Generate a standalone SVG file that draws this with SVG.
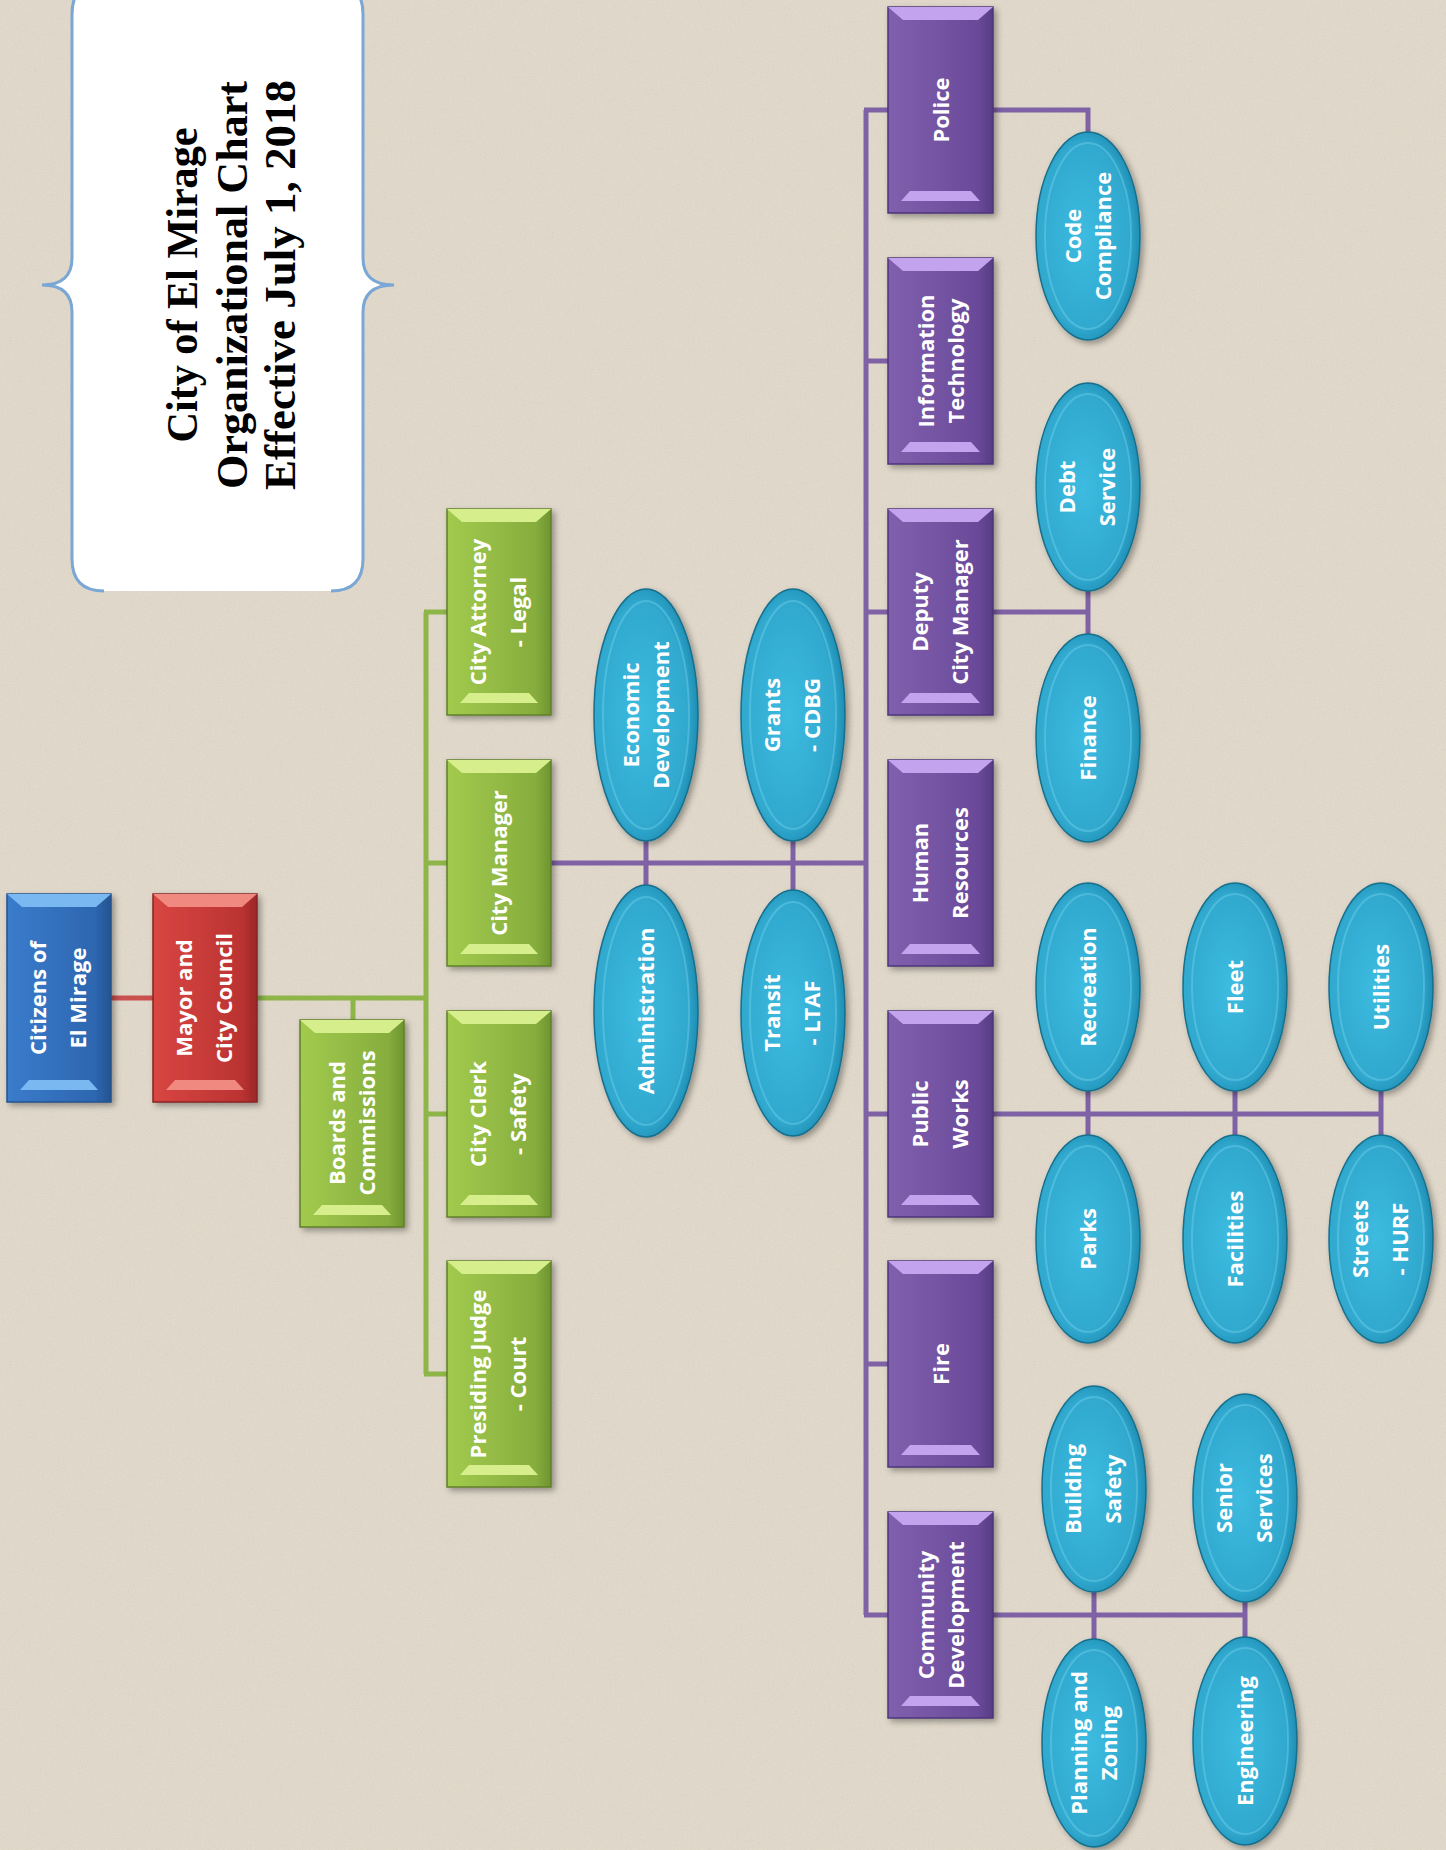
<svg xmlns="http://www.w3.org/2000/svg" width="1446" height="1850" viewBox="0 0 1446 1850">
<style>
.t{font-family:"Open Sans","Liberation Sans",sans-serif;font-weight:700;font-size:22px;fill:#fff;text-anchor:middle}
.title{font-family:"Liberation Serif",serif;font-weight:700;font-size:45px;fill:#000;text-anchor:middle}
.cp{fill:none;stroke:#7f62a6;stroke-width:5}
.cg{fill:none;stroke:#8db548;stroke-width:5}
.cr{fill:none;stroke:#c9504e;stroke-width:5}
.bx{filter:url(#sh)}
.ell{fill:url(#gE);stroke:#176f8c;stroke-width:1.5;filter:url(#sh)}
.ring{fill:none;stroke:#6fd0ec;stroke-width:2;opacity:.45}
.hlG{fill:#d6ee8c}.hlP{fill:#c4a3ee}.hlB{fill:#7ab8f2}.hlR{fill:#f08a80}
</style>
<defs>
<filter id="sh" x="-20%" y="-20%" width="140%" height="140%"><feDropShadow dx="3" dy="3" stdDeviation="3" flood-color="#000" flood-opacity="0.35"/></filter>
<filter id="grain" x="0" y="0" width="100%" height="100%"><feTurbulence type="fractalNoise" baseFrequency="0.75" numOctaves="3" seed="7"/><feColorMatrix type="saturate" values="0"/></filter>
<linearGradient id="gG" x1="0" x2="1" y1="0" y2="0"><stop offset="0" stop-color="#a2cb4e"/><stop offset="0.85" stop-color="#86ad3d"/><stop offset="1" stop-color="#6e9430"/></linearGradient>
<linearGradient id="gP" x1="0" x2="1" y1="0" y2="0"><stop offset="0" stop-color="#8060ae"/><stop offset="0.85" stop-color="#6a4a9a"/><stop offset="1" stop-color="#573c84"/></linearGradient>
<linearGradient id="gB" x1="0" x2="1" y1="0" y2="0"><stop offset="0" stop-color="#3a7ccc"/><stop offset="0.85" stop-color="#2d66b0"/><stop offset="1" stop-color="#24548f"/></linearGradient>
<linearGradient id="gR" x1="0" x2="1" y1="0" y2="0"><stop offset="0" stop-color="#d84642"/><stop offset="0.85" stop-color="#bb3332"/><stop offset="1" stop-color="#9c2728"/></linearGradient>
<radialGradient id="gE" cx="0.45" cy="0.5" r="0.55"><stop offset="0" stop-color="#3dbbe0"/><stop offset="0.8" stop-color="#31a9cf"/><stop offset="1" stop-color="#1f8db3"/></radialGradient>
</defs>

<rect width="1446" height="1850" fill="#e3dacb"/>
<rect width="1446" height="1850" filter="url(#grain)" opacity="0.18"/>

<g id="title">
<path d="M104,-18 L331,-18 Q363,-18 363,14 L363,258 Q363,285 394,285 Q363,285 363,312 L363,559 Q363,591 331,591 L104,591 Q72,591 72,559 L72,312 Q72,285 42,285 Q72,285 72,258 L72,14 Q72,-18 104,-18 Z" fill="#fff"/>
<path d="M104,-18 Q72,-18 72,14 L72,258 Q72,285 42,285 Q72,285 72,312 L72,559 Q72,591 104,591" fill="none" stroke="#7ba7d4" stroke-width="3"/>
<path d="M331,-18 Q363,-18 363,14 L363,258 Q363,285 394,285 Q363,285 363,312 L363,559 Q363,591 331,591" fill="none" stroke="#7ba7d4" stroke-width="3"/>
<g transform="translate(0,285) rotate(-90)">
<text class="title" x="0" y="197" textLength="315" lengthAdjust="spacingAndGlyphs">City of El Mirage</text>
<text class="title" x="0" y="247" textLength="408" lengthAdjust="spacingAndGlyphs">Organizational Chart</text>
<text class="title" x="0" y="295" textLength="410" lengthAdjust="spacingAndGlyphs">Effective July 1, 2018</text>
</g>
</g>

<g id="connectors">
<line class="cr" x1="111" y1="998" x2="153" y2="998"/>
<polyline class="cg" points="257,998 426,998"/>
<line class="cg" x1="353" y1="998" x2="353" y2="1020"/>
<line class="cg" x1="426" y1="612" x2="426" y2="1374"/>
<line class="cg" x1="424" y1="612" x2="447" y2="612"/>
<line class="cg" x1="424" y1="863" x2="447" y2="863"/>
<line class="cg" x1="424" y1="1114" x2="447" y2="1114"/>
<line class="cg" x1="424" y1="1374" x2="447" y2="1374"/>
<line class="cp" x1="551" y1="863" x2="866" y2="863"/>
<line class="cp" x1="646" y1="841" x2="646" y2="885"/>
<line class="cp" x1="793" y1="841" x2="793" y2="890"/>
<line class="cp" x1="866" y1="110" x2="866" y2="1615"/>
<line class="cp" x1="864" y1="110" x2="888" y2="110"/>
<line class="cp" x1="864" y1="361" x2="888" y2="361"/>
<line class="cp" x1="864" y1="612" x2="888" y2="612"/>
<line class="cp" x1="864" y1="1114" x2="888" y2="1114"/>
<line class="cp" x1="864" y1="1364" x2="888" y2="1364"/>
<line class="cp" x1="864" y1="1615" x2="888" y2="1615"/>
<polyline class="cp" points="993,110 1088,110 1088,132"/>
<line class="cp" x1="993" y1="612" x2="1088" y2="612"/>
<line class="cp" x1="1088" y1="590" x2="1088" y2="635"/>
<line class="cp" x1="993" y1="1114" x2="1381" y2="1114"/>
<line class="cp" x1="1088" y1="1091" x2="1088" y2="1135"/>
<line class="cp" x1="1235" y1="1091" x2="1235" y2="1135"/>
<line class="cp" x1="1381" y1="1091" x2="1381" y2="1135"/>
<line class="cp" x1="993" y1="1615" x2="1245" y2="1615"/>
<line class="cp" x1="1094" y1="1592" x2="1094" y2="1640"/>
<line class="cp" x1="1245" y1="1602" x2="1245" y2="1637"/>
</g>

<g id="citizens">
<rect class="bx" x="7" y="894" width="104" height="208" fill="url(#gB)" stroke="#24528f" stroke-width="1.5"/>
<polygon class="hlB" points="7,894 111,894 96,907 22,907"/>
<polygon class="hlB" points="29,1080 89,1080 98,1090 20,1090"/>
<g transform="translate(59,998) rotate(-90)"><text class="t" y="-13">Citizens of</text><text class="t" y="27">El Mirage</text></g>
</g>

<g id="mayor">
<rect class="bx" x="153" y="894" width="104" height="208" fill="url(#gR)" stroke="#8a2324" stroke-width="1.5"/>
<polygon class="hlR" points="153,894 257,894 242,907 168,907"/>
<polygon class="hlR" points="175,1080 235,1080 244,1090 166,1090"/>
<g transform="translate(205,998) rotate(-90)"><text class="t" y="-13">Mayor and</text><text class="t" y="27">City Council</text></g>
</g>

<g id="boards">
<rect class="bx" x="300" y="1020" width="104" height="207" fill="url(#gG)" stroke="#5f7f2a" stroke-width="1.5"/>
<polygon class="hlG" points="300,1020 404,1020 389,1033 315,1033"/>
<polygon class="hlG" points="322,1205 382,1205 391,1215 313,1215"/>
<g transform="translate(352,1123) rotate(-90)"><text class="t" y="-7">Boards and</text><text class="t" y="23">Commissions</text></g>
</g>

<g id="city-attorney">
<rect class="bx" x="447" y="509" width="104" height="206" fill="url(#gG)" stroke="#5f7f2a" stroke-width="1.5"/>
<polygon class="hlG" points="447,509 551,509 536,522 462,522"/>
<polygon class="hlG" points="469,693 529,693 538,703 460,703"/>
<g transform="translate(499,612) rotate(-90)"><text class="t" y="-13">City Attorney</text><text class="t" y="27">- Legal</text></g>
</g>

<g id="city-manager">
<rect class="bx" x="447" y="760" width="104" height="206" fill="url(#gG)" stroke="#5f7f2a" stroke-width="1.5"/>
<polygon class="hlG" points="447,760 551,760 536,773 462,773"/>
<polygon class="hlG" points="469,944 529,944 538,954 460,954"/>
<g transform="translate(499,863) rotate(-90)"><text class="t" y="8">City Manager</text></g>
</g>

<g id="city-clerk">
<rect class="bx" x="447" y="1011" width="104" height="206" fill="url(#gG)" stroke="#5f7f2a" stroke-width="1.5"/>
<polygon class="hlG" points="447,1011 551,1011 536,1024 462,1024"/>
<polygon class="hlG" points="469,1195 529,1195 538,1205 460,1205"/>
<g transform="translate(499,1114) rotate(-90)"><text class="t" y="-13">City Clerk</text><text class="t" y="27">- Safety</text></g>
</g>

<g id="presiding-judge">
<rect class="bx" x="447" y="1261" width="104" height="226" fill="url(#gG)" stroke="#5f7f2a" stroke-width="1.5"/>
<polygon class="hlG" points="447,1261 551,1261 536,1274 462,1274"/>
<polygon class="hlG" points="469,1465 529,1465 538,1475 460,1475"/>
<g transform="translate(499,1374) rotate(-90)"><text class="t" y="-13">Presiding Judge</text><text class="t" y="27">- Court</text></g>
</g>

<g id="economic-development">
<ellipse class="ell" cx="646" cy="715" rx="52" ry="126"/>
<ellipse class="ring" cx="646" cy="715" rx="43" ry="114"/>
<g transform="translate(646,715) rotate(-90)"><text class="t" y="-7">Economic</text><text class="t" y="23">Development</text></g>
</g>

<g id="grants">
<ellipse class="ell" cx="793" cy="715" rx="52" ry="126"/>
<ellipse class="ring" cx="793" cy="715" rx="43" ry="114"/>
<g transform="translate(793,715) rotate(-90)"><text class="t" y="-13">Grants</text><text class="t" y="27">- CDBG</text></g>
</g>

<g id="administration">
<ellipse class="ell" cx="646" cy="1011" rx="52" ry="126"/>
<ellipse class="ring" cx="646" cy="1011" rx="43" ry="114"/>
<g transform="translate(646,1011) rotate(-90)"><text class="t" y="8">Administration</text></g>
</g>

<g id="transit">
<ellipse class="ell" cx="793" cy="1013" rx="52" ry="123"/>
<ellipse class="ring" cx="793" cy="1013" rx="43" ry="111"/>
<g transform="translate(793,1013) rotate(-90)"><text class="t" y="-13">Transit</text><text class="t" y="27">- LTAF</text></g>
</g>

<g id="police">
<rect class="bx" x="888" y="7" width="105" height="206" fill="url(#gP)" stroke="#4e3478" stroke-width="1.5"/>
<polygon class="hlP" points="888,7 993,7 978,20 903,20"/>
<polygon class="hlP" points="910,191 971,191 980,201 901,201"/>
<g transform="translate(940.5,110) rotate(-90)"><text class="t" y="8">Police</text></g>
</g>

<g id="information-technology">
<rect class="bx" x="888" y="258" width="105" height="206" fill="url(#gP)" stroke="#4e3478" stroke-width="1.5"/>
<polygon class="hlP" points="888,258 993,258 978,271 903,271"/>
<polygon class="hlP" points="910,442 971,442 980,452 901,452"/>
<g transform="translate(940.5,361) rotate(-90)"><text class="t" y="-7">Information</text><text class="t" y="23">Technology</text></g>
</g>

<g id="deputy-city-manager">
<rect class="bx" x="888" y="509" width="105" height="206" fill="url(#gP)" stroke="#4e3478" stroke-width="1.5"/>
<polygon class="hlP" points="888,509 993,509 978,522 903,522"/>
<polygon class="hlP" points="910,693 971,693 980,703 901,703"/>
<g transform="translate(940.5,612) rotate(-90)"><text class="t" y="-13">Deputy</text><text class="t" y="27">City Manager</text></g>
</g>

<g id="human-resources">
<rect class="bx" x="888" y="760" width="105" height="206" fill="url(#gP)" stroke="#4e3478" stroke-width="1.5"/>
<polygon class="hlP" points="888,760 993,760 978,773 903,773"/>
<polygon class="hlP" points="910,944 971,944 980,954 901,954"/>
<g transform="translate(940.5,863) rotate(-90)"><text class="t" y="-13">Human</text><text class="t" y="27">Resources</text></g>
</g>

<g id="public-works">
<rect class="bx" x="888" y="1011" width="105" height="206" fill="url(#gP)" stroke="#4e3478" stroke-width="1.5"/>
<polygon class="hlP" points="888,1011 993,1011 978,1024 903,1024"/>
<polygon class="hlP" points="910,1195 971,1195 980,1205 901,1205"/>
<g transform="translate(940.5,1114) rotate(-90)"><text class="t" y="-13">Public</text><text class="t" y="27">Works</text></g>
</g>

<g id="fire">
<rect class="bx" x="888" y="1261" width="105" height="206" fill="url(#gP)" stroke="#4e3478" stroke-width="1.5"/>
<polygon class="hlP" points="888,1261 993,1261 978,1274 903,1274"/>
<polygon class="hlP" points="910,1445 971,1445 980,1455 901,1455"/>
<g transform="translate(940.5,1364) rotate(-90)"><text class="t" y="8">Fire</text></g>
</g>

<g id="community-development">
<rect class="bx" x="888" y="1512" width="105" height="206" fill="url(#gP)" stroke="#4e3478" stroke-width="1.5"/>
<polygon class="hlP" points="888,1512 993,1512 978,1525 903,1525"/>
<polygon class="hlP" points="910,1696 971,1696 980,1706 901,1706"/>
<g transform="translate(940.5,1615) rotate(-90)"><text class="t" y="-7">Community</text><text class="t" y="23">Development</text></g>
</g>

<g id="code-compliance">
<ellipse class="ell" cx="1088" cy="236" rx="52" ry="104"/>
<ellipse class="ring" cx="1088" cy="236" rx="43" ry="93"/>
<g transform="translate(1088,236) rotate(-90)"><text class="t" y="-7">Code</text><text class="t" y="23">Compliance</text></g>
</g>

<g id="debt-service">
<ellipse class="ell" cx="1088" cy="487" rx="52" ry="104"/>
<ellipse class="ring" cx="1088" cy="487" rx="43" ry="93"/>
<g transform="translate(1088,487) rotate(-90)"><text class="t" y="-13">Debt</text><text class="t" y="27">Service</text></g>
</g>

<g id="finance">
<ellipse class="ell" cx="1088" cy="738" rx="52" ry="104"/>
<ellipse class="ring" cx="1088" cy="738" rx="43" ry="93"/>
<g transform="translate(1088,738) rotate(-90)"><text class="t" y="8">Finance</text></g>
</g>

<g id="recreation">
<ellipse class="ell" cx="1088" cy="987" rx="52" ry="104"/>
<ellipse class="ring" cx="1088" cy="987" rx="43" ry="93"/>
<g transform="translate(1088,987) rotate(-90)"><text class="t" y="8">Recreation</text></g>
</g>

<g id="parks">
<ellipse class="ell" cx="1088" cy="1239" rx="52" ry="104"/>
<ellipse class="ring" cx="1088" cy="1239" rx="43" ry="93"/>
<g transform="translate(1088,1239) rotate(-90)"><text class="t" y="8">Parks</text></g>
</g>

<g id="fleet">
<ellipse class="ell" cx="1235" cy="987" rx="52" ry="104"/>
<ellipse class="ring" cx="1235" cy="987" rx="43" ry="93"/>
<g transform="translate(1235,987) rotate(-90)"><text class="t" y="8">Fleet</text></g>
</g>

<g id="facilities">
<ellipse class="ell" cx="1235" cy="1239" rx="52" ry="104"/>
<ellipse class="ring" cx="1235" cy="1239" rx="43" ry="93"/>
<g transform="translate(1235,1239) rotate(-90)"><text class="t" y="8">Facilities</text></g>
</g>

<g id="utilities">
<ellipse class="ell" cx="1381" cy="987" rx="52" ry="104"/>
<ellipse class="ring" cx="1381" cy="987" rx="43" ry="93"/>
<g transform="translate(1381,987) rotate(-90)"><text class="t" y="8">Utilities</text></g>
</g>

<g id="streets-hurf">
<ellipse class="ell" cx="1381" cy="1239" rx="52" ry="104"/>
<ellipse class="ring" cx="1381" cy="1239" rx="43" ry="93"/>
<g transform="translate(1381,1239) rotate(-90)"><text class="t" y="-13">Streets</text><text class="t" y="27">- HURF</text></g>
</g>

<g id="building-safety">
<ellipse class="ell" cx="1094" cy="1489" rx="52" ry="103"/>
<ellipse class="ring" cx="1094" cy="1489" rx="43" ry="92"/>
<g transform="translate(1094,1489) rotate(-90)"><text class="t" y="-13">Building</text><text class="t" y="27">Safety</text></g>
</g>

<g id="senior-services">
<ellipse class="ell" cx="1245" cy="1498" rx="52" ry="104"/>
<ellipse class="ring" cx="1245" cy="1498" rx="43" ry="93"/>
<g transform="translate(1245,1498) rotate(-90)"><text class="t" y="-13">Senior</text><text class="t" y="27">Services</text></g>
</g>

<g id="planning-zoning">
<ellipse class="ell" cx="1094" cy="1743" rx="52" ry="104"/>
<ellipse class="ring" cx="1094" cy="1743" rx="43" ry="93"/>
<g transform="translate(1094,1743) rotate(-90)"><text class="t" y="-7">Planning and</text><text class="t" y="23">Zoning</text></g>
</g>

<g id="engineering">
<ellipse class="ell" cx="1245" cy="1741" rx="52" ry="104"/>
<ellipse class="ring" cx="1245" cy="1741" rx="43" ry="93"/>
<g transform="translate(1245,1741) rotate(-90)"><text class="t" y="8">Engineering</text></g>
</g>
</svg>
